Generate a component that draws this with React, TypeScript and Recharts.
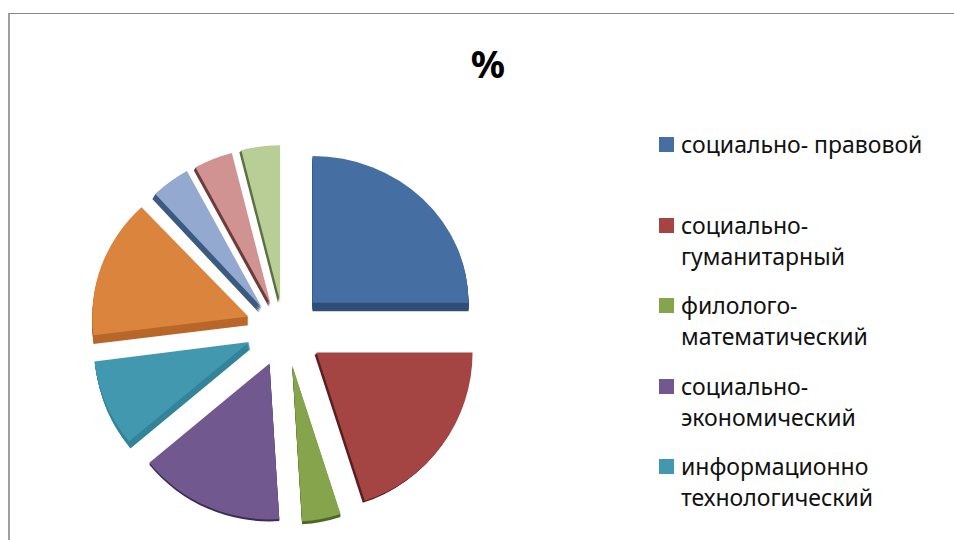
import { PieChart, Pie, Cell, Legend, Sector } from "recharts";

const categories = [
  "социально- правовой",
  "социально-гуманитарный",
  "филолого-математический",
  "социально-экономический",
  "информационно технологический",
  "категория 6",
  "категория 7",
  "категория 8",
  "категория 9",
];
const values = [25, 20, 4, 15, 9, 15, 4, 4, 4];
const faceColors = ["#456fa3", "#a44544", "#86a44c", "#71588f", "#4198af", "#db843d", "#93a9cf", "#d19392", "#b9cd96"];
const rimColors = ["#2f4f78", "#5c1f1f", "#4d6a25", "#3d2c58", "#338499", "#b8672a", "#3d5a82", "#6f3c3c", "#5d7040"];
const rimDepths = [9, 2, 3, 2, 7, 9, 5, 3, 2];
const rimSlants = [0, -1, 0, 0, 0.2, 0, -0.6, -0.6, -1];
const explodeYRatios = [1.1, 0.85, 0.85, 0.85, 0.58, 1.25, 0.8, 0.8, 0.82];
const radiusYScales = [0.94, 1, 1, 1, 1, 0.96, 1, 1, 1];
const visibleLegendItems = 5;

const data = categories.map((name, i) => ({ name, value: values[i] }));

const FONT = '"Noto Sans", sans-serif';
const EXPLODE = 39;

function ExplodedSlice(props: any) {
  const { cx, cy, innerRadius, outerRadius, startAngle, endAngle, midAngle, fill } = props;
  const idx = faceColors.indexOf(fill);
  const rad = (midAngle * Math.PI) / 180;
  const dx = Math.cos(rad) * EXPLODE;
  const dy = -Math.sin(rad) * EXPLODE * explodeYRatios[idx];
  const apexY = cy + dy;
  const base = { innerRadius, outerRadius, startAngle, endAngle, stroke: "none" };
  const rim = [];
  for (let d = rimDepths[idx]; d > 0; d--) {
    rim.push(<Sector key={d} {...base} cx={cx + dx + d * rimSlants[idx]} cy={apexY + d} fill={rimColors[idx]} />);
  }
  const squash = `translate(0 ${apexY}) scale(1 ${radiusYScales[idx]}) translate(0 ${-apexY})`;
  return (
    <g transform={squash}>
      {rim}
      <Sector {...base} cx={cx + dx} cy={apexY} fill={fill} />
    </g>
  );
}

function LegendList({ payload }: any) {
  return (
    <div style={{ fontFamily: FONT, fontSize: 23, lineHeight: "31px", color: "#111" }}>
      {(payload || []).slice(0, visibleLegendItems).map((entry: any) => (
        <div key={entry.value} style={{ height: 80.5, display: "flex", alignItems: "flex-start" }}>
          <span style={{ width: 15, height: 15, marginTop: 8, marginRight: 7, flex: "none", background: entry.color }} />
          <span style={{ width: 262 }}>{entry.value}</span>
        </div>
      ))}
    </div>
  );
}

export default function App() {
  return (
    <div style={{ position: "absolute", left: 0, top: 0, width: 954, height: 540, overflow: "hidden", background: "#fff" }}>
      <div style={{ position: "absolute", left: 8, top: 13, width: 946, height: 527, borderTop: "1px solid #868686", borderLeft: "2px solid #a0a0a0" }} />
      <div style={{ position: "absolute", left: 388, top: 37, width: 200, textAlign: "center", fontFamily: FONT, fontWeight: 700, fontSize: 38, color: "#000" }}>%</div>
      <PieChart width={954} height={540} style={{ position: "absolute", left: 0, top: 0 }}>
        <Pie
          data={data}
          dataKey="value"
          nameKey="name"
          cx={280}
          cy={328}
          outerRadius={156}
          innerRadius={0}
          startAngle={90}
          endAngle={-270}
          stroke="none"
          shape={ExplodedSlice}
          isAnimationActive={false}
        >
          {data.map((d, i) => (
            <Cell key={d.name} fill={faceColors[i]} />
          ))}
        </Pie>
        <Legend
          layout="vertical"
          itemSorter={null}
          content={LegendList as any}
          wrapperStyle={{ position: "absolute", left: 659, top: 129, width: 290 }}
        />
      </PieChart>
    </div>
  );
}
